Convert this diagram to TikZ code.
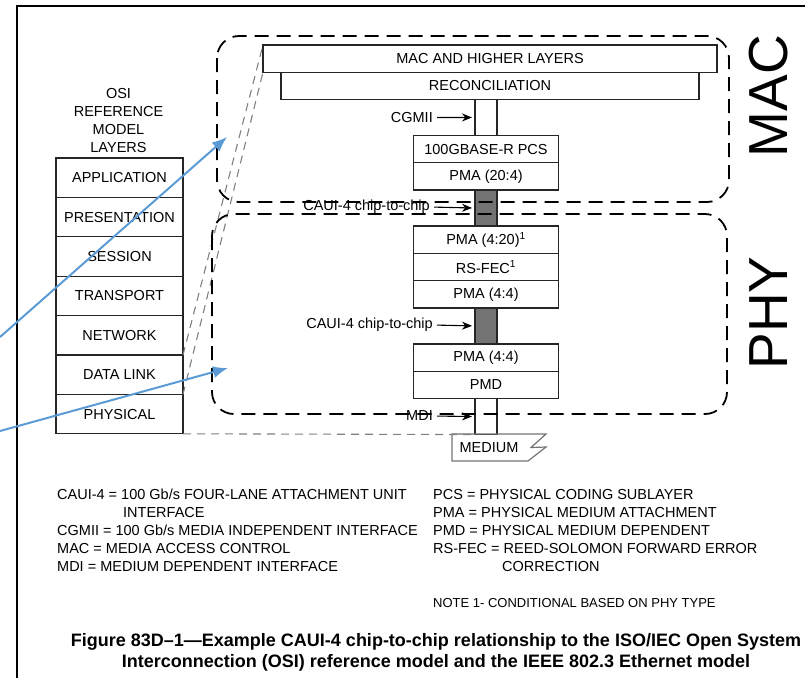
\documentclass[tikz,border=0pt]{standalone}
\usepackage{fontspec}
\setmainfont{Liberation Sans}
\usetikzlibrary{arrows,arrows.meta,positioning}
\definecolor{pilblue}{RGB}{91,155,213}
\tikzset{
    %Define standard arrow tip
    >={Stealth[length=10pt,width=8pt]},
    %Define style for OSI layer boxes
    osilayer/.style={
           rectangle,
           draw=black!85, line width=1.3pt,
           minimum width=127pt,
           minimum height=39.4pt,
           inner sep=0pt, outer sep=0pt,
           font=\fontsize{14.5}{16}\selectfont,
           text centered},
    %Define style for sublayer boxes
    sublayer/.style={
           rectangle,
           draw=black!85, line width=1.3pt,
           minimum width=145pt,
           minimum height=27.3pt,
           inner sep=0pt, outer sep=0pt,
           font=\fontsize{14.5}{16}\selectfont,
           text centered},
    %Define style for links between sublayers
    link/.style={
           rectangle,
           draw=black!85, line width=1.3pt,
           minimum width=22pt,
           minimum height=36pt,
           inner sep=0pt, outer sep=0pt},
    chip/.style={
           link,
           fill=black!55},
    lbl/.style={
           inner sep=0pt,
           font=\fontsize{14.5}{16}\selectfont},
    %Define style for dashed group boxes
    group/.style={
           draw=black, line width=1.8pt,
           dash pattern=on 14pt off 8pt,
           rounded corners=22pt},
    proj/.style={
           draw=black!50, line width=1.1pt,
           dash pattern=on 8pt off 6pt},
    % Define arrow style
    pil/.style={
           ->,
           line width=1.1pt,
           shorten <=4pt,
           shorten >=3pt},
    bluepil/.style={
           -{Latex[length=15pt,width=12pt]},
           draw=pilblue, line width=2pt}
}
\begin{document}
\begin{tikzpicture}[x=1pt,y=-1pt]
\useasboundingbox (0,0) rectangle (805,678);

 %frame
\draw[line width=1.8pt] (17,678) -- (17,6) -- (805,6);

 %OSI layers
\node[lbl, align=center, font=\fontsize{14.5}{18}\selectfont](osi) at (118.5,120.5){OSI\\REFERENCE\\MODEL\\LAYERS};
\node[osilayer](app) at (119.5,177.7){APPLICATION};
\node[osilayer, below=0pt of app](pres){PRESENTATION};
\node[osilayer, below=0pt of pres](sess){SESSION};
\node[osilayer, below=0pt of sess](trans){TRANSPORT};
\node[osilayer, below=0pt of trans](net){NETWORK};
\node[osilayer, below=0pt of net](dlink){DATA LINK};
\node[osilayer, below=0pt of dlink](phys){PHYSICAL};

 %Ethernet sublayers
\node[sublayer, minimum width=454pt](higher) at (490,58.5){MAC AND HIGHER LAYERS};
\node[sublayer, minimum width=418pt, below=0pt of higher](rec){RECONCILIATION};
\node[link, below=0pt of rec, xshift=-4pt](cgmii){};
\node[sublayer, below=0pt of cgmii](pcs){100GBASE-R PCS};
\node[sublayer, below=0pt of pcs](pma1){PMA (20:4)};
\node[chip, below=0pt of pma1](caui1){};
\node[sublayer, below=0pt of caui1](pma2){PMA (4:20)\textsuperscript{1}};
\node[sublayer, below=0pt of pma2](fec){RS-FEC\textsuperscript{1}};
\node[sublayer, below=0pt of fec](pma3){PMA (4:4)};
\node[chip, below=0pt of pma3](caui2){};
\node[sublayer, below=0pt of caui2](pma4){PMA (4:4)};
\node[sublayer, below=0pt of pma4](pmd){PMD};
\node[link, below=0pt of pmd](mdi){};

 %medium
\draw[black!55, line width=1.2pt] (452,434) -- (546,434) -- (531,447.5) -- (546,447) -- (528,461) -- (452,461) -- cycle;
\node[lbl](medium) at (489,447.5){MEDIUM};

 %interface labels
\node[lbl, anchor=east](cgmiilbl) at (433,117.5){CGMII};
\node[lbl, anchor=east](cauilbl1) at (430,207){CAUI-4 chip-to-chip};
\node[lbl, anchor=east](cauilbl2) at (433,325){CAUI-4 chip-to-chip};
\node[lbl, anchor=east](mdilbl) at (433,416){MDI};
\draw[pil] (cgmiilbl.east) -- (cgmii.west);
\draw[pil] (cauilbl1.east) -- (caui1.west);
\draw[pil] (cauilbl2.east) -- (caui2.west);
\draw[pil] (mdilbl.east) -- (mdi.west);

 %mapping to OSI
\draw[proj] (dlink.north east) -- (higher.north west);
\draw[proj] (dlink.south east) -- (higher.south west);
\draw[proj] (phys.south east) -- (mdi.south west);

 %MAC and PHY groups
\draw[group] (217,36) rectangle (729,202);
\draw[group] (212,214) rectangle (727,414);
\node[font=\fontsize{55}{55}\selectfont, rotate=90](maclbl) at (769,96){MAC};
\node[font=\fontsize{55}{55}\selectfont, rotate=90](phylbl) at (769,313){PHY};

 %blue arrows
\coordinate(src1) at (0,337);
\coordinate(src2) at (0,431);
\coordinate(tgt1) at (227,137);
\coordinate(tgt2) at (228,368);
\draw[bluepil] (src1) -- (tgt1);
\draw[bluepil] (src2) -- (tgt2);

 %legend
\node[lbl, anchor=north west, align=left, font=\fontsize{14.5}{18}\selectfont](legl) at (57,489){CAUI-4 = 100 Gb/s FOUR-LANE ATTACHMENT UNIT\\\hspace*{66pt}INTERFACE\\CGMII = 100 Gb/s MEDIA INDEPENDENT INTERFACE\\MAC = MEDIA ACCESS CONTROL\\MDI = MEDIUM DEPENDENT INTERFACE};
\node[lbl, anchor=north west, align=left, font=\fontsize{14.5}{18}\selectfont](legr) at (433,489){PCS = PHYSICAL CODING SUBLAYER\\PMA = PHYSICAL MEDIUM ATTACHMENT\\PMD = PHYSICAL MEDIUM DEPENDENT\\RS-FEC = REED-SOLOMON FORWARD ERROR\\\hspace*{69pt}CORRECTION};
\node[lbl, anchor=west, font=\fontsize{13}{16}\selectfont](note) at (433,603){NOTE 1- CONDITIONAL BASED ON PHY TYPE};

 %caption
\node[lbl, align=center, font=\bfseries\fontsize{18}{21}\selectfont](caption) at (436,652.5){Figure 83D–1—Example CAUI-4 chip-to-chip relationship to the ISO/IEC Open System\\Interconnection (OSI) reference model and the IEEE 802.3 Ethernet model};

\end{tikzpicture}
\end{document}
